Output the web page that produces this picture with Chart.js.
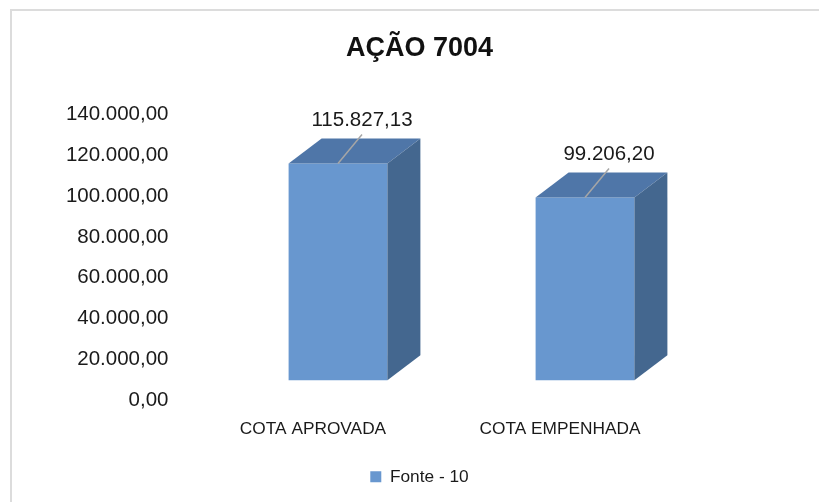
<!DOCTYPE html>
<html>
<head>
<meta charset="utf-8">
<script src="https://cdn.jsdelivr.net/npm/chart.js@4/dist/chart.umd.min.js"></script>
<style>
  body { margin: 0; background: #fff; }
  #wrap { position: relative; width: 819px; height: 502px; overflow: hidden; }
  #frame { position: absolute; left: 10px; top: 9px; width: 900px; height: 600px;
           border-left: 2px solid #dcdcdc; border-top: 2px solid #dcdcdc; }
  canvas { position: absolute; left: 0; top: 0; }
</style>
</head>
<body>
<div id="wrap">
  <div id="frame"></div>
  <canvas id="chart" width="819" height="502"></canvas>
</div>
<script>
// chart data
const categories = ["COTA APROVADA", "COTA EMPENHADA"];
const seriesName = "Fonte - 10";
const seriesValues = [115827.13, 99206.20];
const tickValues = [0, 20000, 40000, 60000, 80000, 100000, 120000, 140000];

// format numbers like 115.827,13
function formatBR(v) {
  const parts = v.toFixed(2).split(".");
  const intPart = parts[0].replace(/\B(?=(\d{3})+(?!\d))/g, ".");
  return intPart + "," + parts[1];
}

const frontColor = "#6897cf";
const topColor = "#4f76a8";
const sideColor = "#44678f";
const depthX = 33, depthY = -25;
const fontFamily = "'Liberation Sans', Arial, sans-serif";

// draws the top and side faces so the bars look 3D, plus the value labels
const bars3d = {
  id: "bars3d",
  afterDatasetsDraw(chart) {
    const ctx = chart.ctx;
    const meta = chart.getDatasetMeta(0);
    ctx.save();
    meta.data.forEach(function(bar, i) {
      const p = bar.getProps(["x", "y", "base", "width"], true);
      const left = p.x - p.width / 2;
      const right = p.x + p.width / 2;

      // top face
      ctx.fillStyle = topColor;
      ctx.beginPath();
      ctx.moveTo(left, p.y);
      ctx.lineTo(right, p.y);
      ctx.lineTo(right + depthX, p.y + depthY);
      ctx.lineTo(left + depthX, p.y + depthY);
      ctx.closePath();
      ctx.fill();

      // side face
      ctx.fillStyle = sideColor;
      ctx.beginPath();
      ctx.moveTo(right, p.y);
      ctx.lineTo(right + depthX, p.y + depthY);
      ctx.lineTo(right + depthX, p.base + depthY);
      ctx.lineTo(right, p.base);
      ctx.closePath();
      ctx.fill();

      // leader line + label
      ctx.strokeStyle = "#a6a6a6";
      ctx.lineWidth = 1.5;
      ctx.beginPath();
      ctx.moveTo(p.x, p.y);
      ctx.lineTo(p.x + 24, p.y - 29);
      ctx.stroke();

      ctx.fillStyle = "#1a1a1a";
      ctx.font = "20.5px " + fontFamily;
      ctx.textAlign = "center";
      ctx.textBaseline = "middle";
      ctx.fillText(formatBR(seriesValues[i]), p.x + 24, p.y - 43);
    });
    ctx.restore();
  }
};

new Chart(document.getElementById("chart").getContext("2d"), {
  type: "bar",
  data: {
    labels: categories,
    datasets: [{
      label: seriesName,
      data: seriesValues,
      base: 10000,
      backgroundColor: frontColor,
      borderWidth: 0,
      categoryPercentage: 1,
      barPercentage: 0.4
    }]
  },
  options: {
    responsive: false,
    animation: false,
    layout: { padding: { left: 20, right: 0, top: 0, bottom: 6.5 } },
    scales: {
      x: {
        grid: { display: false, drawTicks: false, tickLength: 0 },
        border: { display: false },
        ticks: {
          color: "#1a1a1a",
          font: { family: fontFamily, size: 17.3 },
          padding: 18,
          labelOffset: -25
        },
        afterFit: function(s) { s.height = 57.5; }
      },
      y: {
        min: 0,
        max: 140000,
        grid: { display: false, drawTicks: false, tickLength: 0 },
        border: { display: false },
        afterBuildTicks: function(s) { s.ticks = tickValues.map(v => ({ value: v })); },
        ticks: {
          color: "#1a1a1a",
          font: { family: fontFamily, size: 20.5 },
          padding: 46,
          callback: function(v) { return formatBR(v); }
        },
        afterFit: function(s) { s.width = 194.5; }
      },
      // empty axis on the right, only keeps room for the 3D depth
      yRight: {
        position: "right",
        grid: { display: false, drawTicks: false, tickLength: 0 },
        border: { display: false },
        ticks: { display: false },
        afterFit: function(s) { s.width = 110.5; }
      }
    },
    plugins: {
      title: {
        display: true,
        text: "AÇÃO 7004",
        color: "#111",
        font: { family: fontFamily, size: 27, weight: "bold" },
        padding: { top: 32.8, bottom: 48.8 }
      },
      legend: {
        position: "bottom",
        labels: {
          boxWidth: 11,
          boxHeight: 11,
          padding: 10,
          color: "#1a1a1a",
          font: { family: fontFamily, size: 17.3 }
        }
      },
      tooltip: { enabled: false }
    }
  },
  plugins: [bars3d]
});
</script>
</body>
</html>
